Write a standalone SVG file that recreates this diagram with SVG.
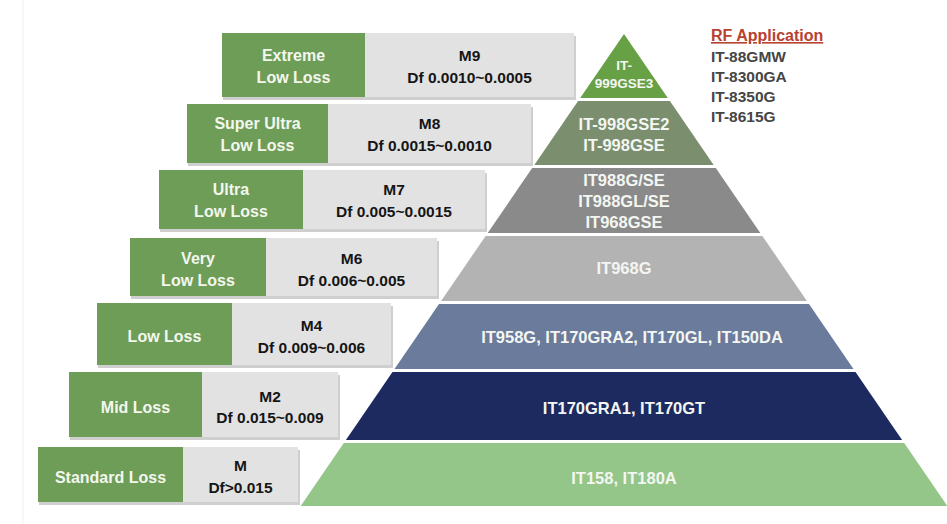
<svg xmlns="http://www.w3.org/2000/svg" width="947" height="524" viewBox="0 0 947 524">
<style>
  text { font-family: "Liberation Sans", Arial, sans-serif; font-weight: bold; text-anchor: middle; }
  .g { fill: #6e9d57; }
  .b { fill: #e2e2e2; }
  .sh { fill: #cfcfcf; }
  .gt { fill: #f3f7ee; font-size: 16px; }
  .bt { fill: #151515; font-size: 15.5px; }
  .pt { fill: #f4f6f2; font-size: 16.5px; }
  .rf { fill: #454545; font-size: 15.5px; text-anchor: start; }
</style>
<rect x="0" y="0" width="947" height="524" fill="#ffffff"/>
<line x1="23" y1="0" x2="23" y2="524" stroke="#f0f0f0" stroke-width="1"/>

<!-- Left category rows -->
<g id="row-m9">
  <rect class="sh" x="223" y="36" width="353" height="64"/>
  <rect class="g" x="222" y="33" width="143" height="64"/>
  <rect class="b" x="365" y="33" width="209" height="64"/>
  <text class="gt" x="293.5" y="61">Extreme</text>
  <text class="gt" x="293.5" y="83">Low Loss</text>
  <text class="bt" x="469.5" y="61">M9</text>
  <text class="bt" x="469.5" y="83">Df 0.0010~0.0005</text>
</g>
<g id="row-m8">
  <rect class="sh" x="188" y="107" width="345" height="59"/>
  <rect class="g" x="187" y="104" width="141" height="59"/>
  <rect class="b" x="328" y="104" width="203" height="59"/>
  <text class="gt" x="257.5" y="129">Super Ultra</text>
  <text class="gt" x="257.5" y="151">Low Loss</text>
  <text class="bt" x="429.5" y="129">M8</text>
  <text class="bt" x="429.5" y="151">Df 0.0015~0.0010</text>
</g>
<g id="row-m7">
  <rect class="sh" x="160" y="173" width="327" height="59"/>
  <rect class="g" x="159" y="170" width="144" height="59"/>
  <rect class="b" x="303" y="170" width="182" height="59"/>
  <text class="gt" x="231" y="195">Ultra</text>
  <text class="gt" x="231" y="217">Low Loss</text>
  <text class="bt" x="394" y="195">M7</text>
  <text class="bt" x="394" y="217">Df 0.005~0.0015</text>
</g>
<g id="row-m6">
  <rect class="sh" x="131" y="241" width="308" height="58"/>
  <rect class="g" x="130" y="238" width="136" height="58"/>
  <rect class="b" x="266" y="238" width="171" height="58"/>
  <text class="gt" x="198" y="264">Very</text>
  <text class="gt" x="198" y="286">Low Loss</text>
  <text class="bt" x="351.5" y="264">M6</text>
  <text class="bt" x="351.5" y="286">Df 0.006~0.005</text>
</g>
<g id="row-m4">
  <rect class="sh" x="98" y="306" width="295" height="62"/>
  <rect class="g" x="97" y="303" width="135" height="62"/>
  <rect class="b" x="232" y="303" width="159" height="62"/>
  <text class="gt" x="164.5" y="342">Low Loss</text>
  <text class="bt" x="311.5" y="331">M4</text>
  <text class="bt" x="311.5" y="353">Df 0.009~0.006</text>
</g>
<g id="row-m2">
  <rect class="sh" x="70" y="375" width="270" height="65"/>
  <rect class="g" x="69" y="372" width="133" height="65"/>
  <rect class="b" x="202" y="372" width="136" height="65"/>
  <text class="gt" x="135.5" y="413">Mid Loss</text>
  <text class="bt" x="270" y="402">M2</text>
  <text class="bt" x="270" y="423">Df 0.015~0.009</text>
</g>
<g id="row-m">
  <rect class="sh" x="39" y="450" width="261" height="55"/>
  <rect class="g" x="38" y="447" width="145" height="55"/>
  <rect class="b" x="183" y="447" width="115" height="55"/>
  <text class="gt" x="110.5" y="483">Standard Loss</text>
  <text class="bt" x="240.5" y="471">M</text>
  <text class="bt" x="240.5" y="493">Df&gt;0.015</text>
</g>

<!-- Pyramid layers -->
<g id="layer-1">
  <polygon points="624,34 667.8,98 580.2,98" fill="#68a046"/>
  <text class="pt" x="624" y="70" style="font-size:13.5px" fill="#eef5e6">IT-</text>
  <text class="pt" x="624" y="88" style="font-size:13.5px" fill="#eef5e6">999GSE3</text>
</g>
<g id="layer-2">
  <polygon points="578.1,101 669.9,101 713.7,165 534.3,165" fill="#7b8f6e"/>
  <text class="pt" x="624" y="130">IT-998GSE2</text>
  <text class="pt" x="624" y="151">IT-998GSE</text>
</g>
<g id="layer-3">
  <polygon points="532.2,168 715.8,168 760.3,233 487.7,233" fill="#8a8a8a"/>
  <text class="pt" x="624" y="186">IT988G/SE</text>
  <text class="pt" x="624" y="207">IT988GL/SE</text>
  <text class="pt" x="624" y="228">IT968GSE</text>
</g>
<g id="layer-4">
  <polygon points="485.6,236 762.4,236 806.9,301 441.1,301" fill="#b3b3b3"/>
  <text class="pt" x="624" y="274">IT968G</text>
</g>
<g id="layer-5">
  <polygon points="439,304 809,304 853.5,369 394.5,369" fill="#6b7b9b"/>
  <text class="pt" x="632" y="343">IT958G, IT170GRA2, IT170GL, IT150DA</text>
</g>
<g id="layer-6">
  <polygon points="392.5,372 855.5,372 902.1,440 345.9,440" fill="#1c2a60"/>
  <text class="pt" x="624" y="414">IT170GRA1, IT170GT</text>
</g>
<g id="layer-7">
  <polygon points="343.8,443 904.2,443 947.3,506 300.7,506" fill="#93c688"/>
  <text class="pt" x="624" y="484">IT158, IT180A</text>
</g>

<!-- RF Application list -->
<g id="rf-application">
  <text x="711" y="41" style="font-size:16px;text-anchor:start;text-decoration:underline" fill="#b8412f">RF Application</text>
  <text class="rf" x="711" y="62">IT-88GMW</text>
  <text class="rf" x="711" y="82">IT-8300GA</text>
  <text class="rf" x="711" y="102">IT-8350G</text>
  <text class="rf" x="711" y="122">IT-8615G</text>
</g>
</svg>
